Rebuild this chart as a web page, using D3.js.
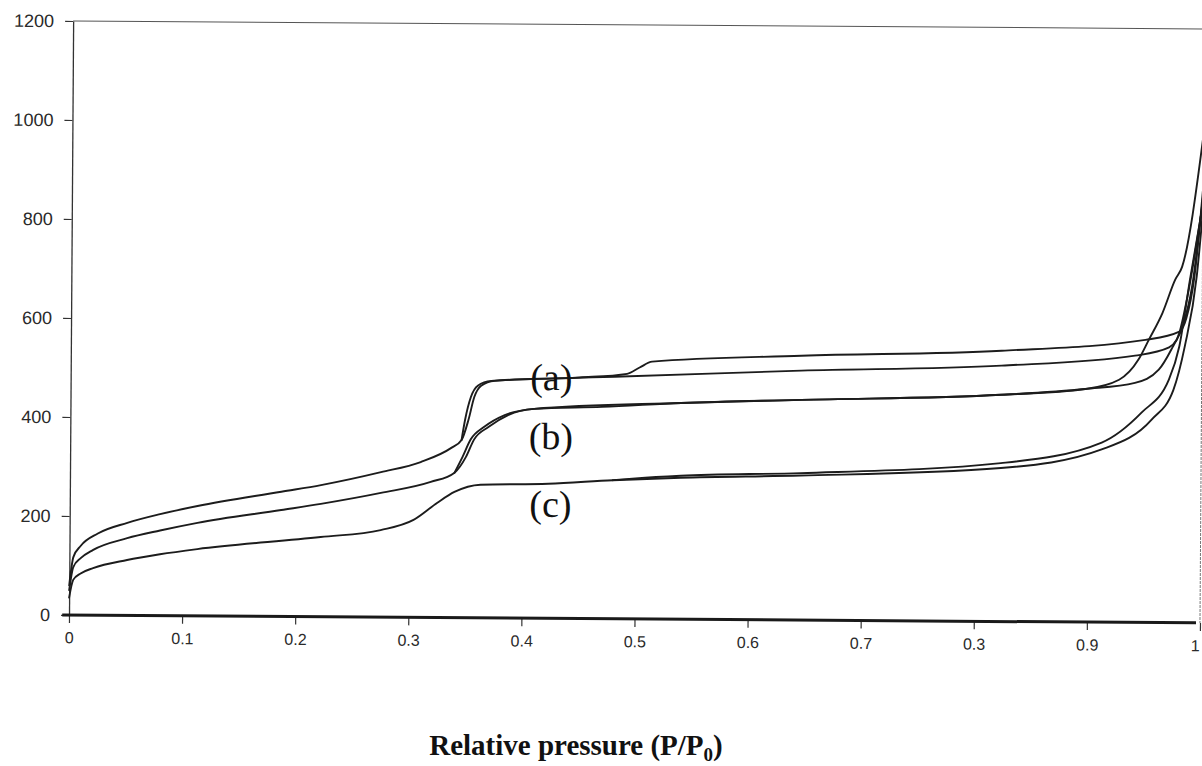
<!DOCTYPE html>
<html><head><meta charset="utf-8">
<script src="https://cdn.jsdelivr.net/npm/d3@7"></script>
<style>body{margin:0;background:#fff}</style>
</head><body><svg id="chart" width="1202" height="766"></svg>
<script>
// ---- data (relative pressure P/P0, volume adsorbed) ----
const xTicks = [0, 0.1, 0.2, 0.3, 0.4, 0.5, 0.6, 0.7, 0.8, 0.9, 1];
const xTickLabels = ["0", "0.1", "0.2", "0.3", "0.4", "0.5", "0.6", "0.7", "0.3", "0.9", "1"];
const yTicks = [0, 200, 400, 600, 800, 1000, 1200];

const aAdsorption = [[0,60],[0.0035,117],[0.01,140],[0.025,165],[0.051,187],[0.08,205],[0.113,222],[0.187,252],[0.222,266],[0.275,293],[0.31,314],[0.337,343],[0.346,359],[0.352,400],[0.357,446],[0.363,469],[0.375,479],[0.43,485],[0.481,489],[0.646,504],[0.823,517],[0.941,539],[0.971,556],[0.983,600],[0.991,680],[1.0,860]];
const aDesorption = [[0.346,359],[0.349,400],[0.354,446],[0.360,469],[0.372,479],[0.45,487],[0.492,495],[0.503,508],[0.514,520],[0.646,534],[0.823,547],[0.95,571],[0.98,588],[0.986,615],[0.993,700],[1.0,875]];

const bAdsorption = [[0,50],[0.0035,97],[0.01,115],[0.021,132],[0.051,156],[0.08,172],[0.113,188],[0.187,215],[0.222,228],[0.275,251],[0.319,274],[0.34,293],[0.35,325],[0.357,360],[0.37,386],[0.387,410],[0.41,423],[0.47,428],[0.54,437],[0.646,445],[0.823,458],[0.897,471],[0.941,484],[0.962,511],[0.973,552],[0.98,586],[0.987,660],[1.0,850]];
const bDesorption = [[0.34,293],[0.347,325],[0.354,360],[0.366,386],[0.384,410],[0.41,423],[0.54,437],[0.646,445],[0.823,458],[0.897,471],[0.927,490],[0.944,531],[0.953,571],[0.965,626],[0.976,693],[0.982,719],[1.0,983]];

const cAdsorption = [[0,35],[0.0035,71],[0.01,84],[0.021,95],[0.051,112],[0.08,124],[0.113,135],[0.222,161],[0.275,176],[0.304,197],[0.325,232],[0.34,254],[0.363,269],[0.423,272],[0.48,280],[0.54,286],[0.646,292],[0.823,310],[0.912,349],[0.956,410],[0.975,470],[0.985,560],[0.995,700],[1.0,830]];
const cDesorption = [[0.48,280],[0.5,284],[0.54,290],[0.646,297],[0.823,320],[0.912,363],[0.947,424],[0.971,491],[0.98,558],[0.989,693],[1.0,845]];

const labelText = ["(a)", "(b)", "(c)"];
const labelP = [0.425, 0.425, 0.425];
const labelV = [461, 342, 205];

const xTitle = "Relative pressure (P/P";
const xTitleSub = "0";

// ---- drawing ----
const svg = d3.select("#chart");
svg.append("rect").attr("width", 1202).attr("height", 766).attr("fill", "#fff");

const x = d3.scaleLinear().domain([0, 1]).range([69, 1200]);
const y = d3.scaleLinear().domain([0, 1200]).range([615, 21]);

const g = svg.append("g").attr("transform", "rotate(0.4,69,615)");

// plot frame (top and right)
g.append("line").attr("x1", x(0)).attr("x2", x(1)).attr("y1", y(1200)).attr("y2", y(1200))
  .attr("stroke", "#555").attr("stroke-width", 1);
g.append("line").attr("x1", x(1)).attr("x2", x(1)).attr("y1", y(1200)).attr("y2", y(0))
  .attr("stroke", "#777").attr("stroke-width", 1).attr("stroke-dasharray", "3,1");

// y axis
const yAxis = g.append("g").attr("transform", `translate(${x(0)},0)`)
  .call(d3.axisLeft(y).tickValues(yTicks).tickFormat(d3.format("d")).tickSize(8).tickSizeOuter(0).tickPadding(11));
yAxis.select(".domain").attr("stroke", "#333").attr("stroke-width", 1.3);
yAxis.selectAll(".tick line").attr("stroke", "#333").attr("stroke-width", 1.2);
yAxis.selectAll(".tick text").attr("font-family", "Liberation Sans, Arial, sans-serif").attr("font-size", 18)
  .attr("fill", "#2a2a2a");

// x axis
const xAxis = g.append("g").attr("transform", `translate(0,${y(0)})`)
  .call(d3.axisBottom(x).tickValues(xTicks).tickFormat((d, i) => xTickLabels[i]).tickSize(8).tickSizeOuter(0).tickPadding(9));
xAxis.select(".domain").remove();
xAxis.selectAll(".tick line").attr("stroke", "#333").attr("stroke-width", 1.2);
xAxis.selectAll(".tick text").attr("font-family", "Liberation Sans, Arial, sans-serif").attr("font-size", 16)
  .attr("fill", "#2a2a2a")
  .attr("dx", (d, i) => i === xTicks.length - 1 ? -5 : 0);
g.append("line").attr("x1", x(-0.006)).attr("x2", x(0.9965)).attr("y1", y(0)).attr("y2", y(0))
  .attr("stroke", "#1a1a1a").attr("stroke-width", 3);

// isotherm curves
const line = d3.line().x(d => x(d[0])).y(d => y(d[1])).curve(d3.curveMonotoneX);
const branches = [aAdsorption, aDesorption, bAdsorption, bDesorption, cAdsorption, cDesorption];
g.selectAll("path.iso").data(branches).enter().append("path")
  .attr("class", "iso").attr("d", line)
  .attr("fill", "none").attr("stroke", "#1c1c1c").attr("stroke-width", 1.9)
  .attr("stroke-linejoin", "round").attr("stroke-linecap", "round");

// sample labels
g.selectAll("text.lbl").data(labelText).enter().append("text")
  .attr("class", "lbl")
  .attr("x", (d, i) => x(labelP[i])).attr("y", (d, i) => y(labelV[i]))
  .attr("text-anchor", "middle")
  .attr("font-family", "Liberation Serif, Times New Roman, serif").attr("font-size", 38)
  .attr("fill", "#111").text(d => d);

// x-axis title
const t = svg.append("text").attr("x", 576).attr("y", 755).attr("text-anchor", "middle")
  .attr("font-family", "Liberation Serif, Times New Roman, serif").attr("font-size", 29)
  .attr("font-weight", "bold").attr("fill", "#111");
t.append("tspan").text(xTitle);
t.append("tspan").attr("font-size", 19).attr("dy", 6).text(xTitleSub);
t.append("tspan").attr("dy", -6).text(")");
</script>
</body></html>
